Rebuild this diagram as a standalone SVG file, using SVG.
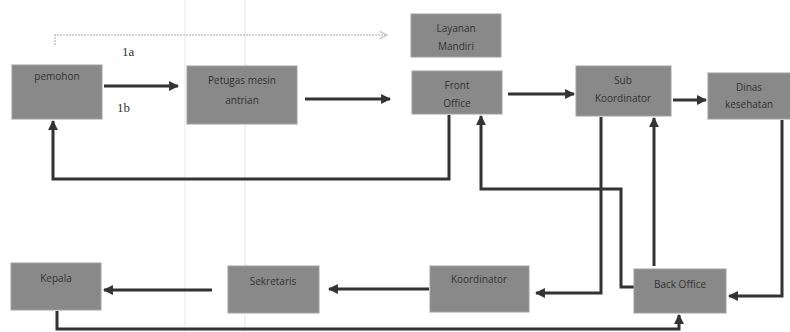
<svg xmlns="http://www.w3.org/2000/svg" width="790" height="332" viewBox="0 0 790 332">
<defs>
<style>
.box{fill:#898989;stroke:#a0a0a0;stroke-width:1}
.t{font-family:"Open Sans","Liberation Sans",sans-serif;font-size:10px;fill:#333;text-anchor:middle}
.lbl{font-family:"Liberation Serif",serif;font-size:13px;fill:#333}
.c{fill:none;stroke:#333;stroke-width:3}
.d{fill:none;stroke:#c4c4c4;stroke-width:1.5;stroke-dasharray:2 1}
.bg{stroke:#e6e6e6;stroke-width:1}
</style>
<marker id="ah" viewBox="0 0 10 10" refX="9" refY="5" markerWidth="3.3" markerHeight="3.3" orient="auto" markerUnits="strokeWidth">
<path d="M0,0 L10,5 L0,10 z" fill="#333"/>
</marker>
<marker id="ao" viewBox="0 0 10 10" refX="9" refY="5" markerWidth="6" markerHeight="6" orient="auto" markerUnits="strokeWidth">
<path d="M1,1 L9,5 L1,9" fill="none" stroke="#c4c4c4" stroke-width="1.5"/>
</marker>
</defs>
<rect width="790" height="332" fill="#fff"/>
<line class="bg" x1="185" y1="0" x2="185" y2="332"/>
<line class="bg" x1="245" y1="0" x2="245" y2="332"/>
<g id="connectors">
<path class="d" d="M55,45 L55,35 L387,35" marker-end="url(#ao)"/>
<path class="c" d="M104,86 L178,86" marker-end="url(#ah)"/>
<path class="c" d="M305,99 L390,99" marker-end="url(#ah)"/>
<path class="c" d="M508,94 L574,94" marker-end="url(#ah)"/>
<path class="c" d="M673,100 L706,100" marker-end="url(#ah)"/>
<path class="c" d="M449,115 L449,179 L53,179 L53,121" marker-end="url(#ah)"/>
<path class="c" d="M635,287 L621,287 L621,189 L481,189 L481,116" marker-end="url(#ah)"/>
<path class="c" d="M601,117 L601,293 L536,293" marker-end="url(#ah)"/>
<path class="c" d="M654,266 L654,118" marker-end="url(#ah)"/>
<path class="c" d="M782,120 L782,296 L729,296" marker-end="url(#ah)"/>
<path class="c" d="M429,289 L329,289" marker-end="url(#ah)"/>
<path class="c" d="M212,290 L104,290" marker-end="url(#ah)"/>
<path class="c" d="M57,311 L57,329 L679,329 L679,315" marker-end="url(#ah)"/>
<text class="lbl" x="122" y="56">1a</text>
<text class="lbl" x="117" y="112">1b</text>
</g>
<g id="pemohon"><rect class="box" x="12" y="65" width="90" height="54"/><text class="t" x="57" y="80">pemohon</text></g>
<g id="petugas"><rect class="box" x="187" y="66" width="110" height="58"/><text class="t" x="242" y="84">Petugas mesin</text><text class="t" x="242" y="104">antrian</text></g>
<g id="layanan"><rect class="box" x="411" y="14" width="90" height="43"/><text class="t" x="456" y="32">Layanan</text><text class="t" x="456" y="50">Mandiri</text></g>
<g id="front"><rect class="box" x="412" y="71" width="90" height="43"/><text class="t" x="457" y="89">Front</text><text class="t" x="457" y="107">Office</text></g>
<g id="sub"><rect class="box" x="576" y="66" width="95" height="50"/><text class="t" x="623" y="84">Sub</text><text class="t" x="623" y="102">Koordinator</text></g>
<g id="dinas"><rect class="box" x="708" y="73" width="84" height="46"/><text class="t" x="749" y="91">Dinas</text><text class="t" x="749" y="108">kesehatan</text></g>
<g id="kepala"><rect class="box" x="11" y="263" width="90" height="47"/><text class="t" x="56" y="282">Kepala</text></g>
<g id="sekretaris"><rect class="box" x="228" y="266" width="91" height="47"/><text class="t" x="273" y="285">Sekretaris</text></g>
<g id="koordinator"><rect class="box" x="430" y="266" width="99" height="46"/><text class="t" x="479" y="283">Koordinator</text></g>
<g id="backoffice"><rect class="box" x="634" y="269" width="92" height="44"/><text class="t" x="680" y="288">Back Office</text></g>
</svg>
